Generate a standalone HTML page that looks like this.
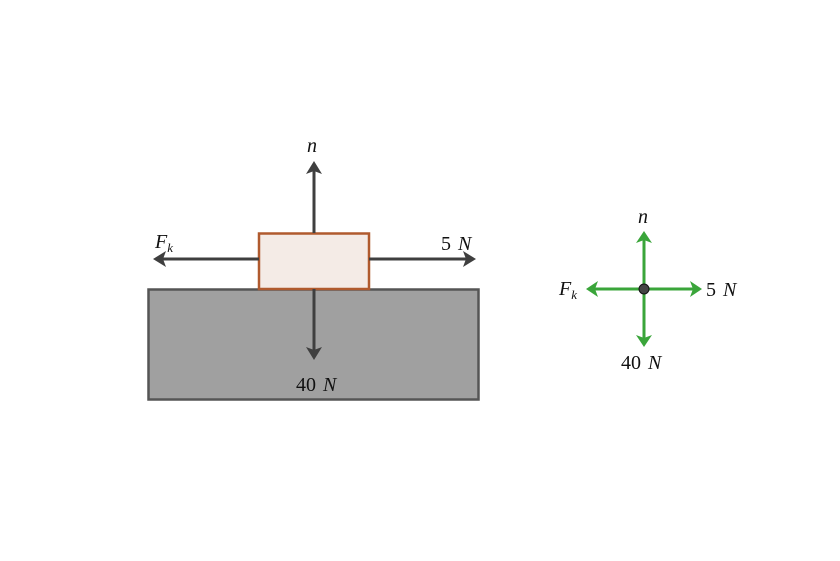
<!DOCTYPE html>
<html><head><meta charset="utf-8"><style>
html,body{margin:0;padding:0;background:#fff;}
svg{display:block;}
text{font-family:"Liberation Serif","DejaVu Serif",serif;font-size:20px;fill:#111;}
.i{font-style:italic;}
</style></head><body>
<svg width="840" height="561" viewBox="0 0 840 561" xmlns="http://www.w3.org/2000/svg">
<rect x="0" y="0" width="840" height="561" fill="#fff"/>
<rect x="148.5" y="289.5" width="330" height="110" fill="#a0a0a0" stroke="#555" stroke-width="2.5"/>
<rect x="259" y="233.5" width="110" height="55.5" fill="#f4ebe6" stroke="#b05a2e" stroke-width="2.5"/>
<g stroke="#3f3f3f" stroke-width="3" fill="none">
<line x1="314" y1="233" x2="314" y2="170"/>
<line x1="314" y1="289" x2="314" y2="352"/>
<line x1="259" y1="259" x2="161" y2="259"/>
<line x1="369" y1="259" x2="468" y2="259"/>
</g>
<g fill="#3f3f3f">
<polygon points="314,161 322,174 314,171 306,174"/>
<polygon points="314,360 322,347 314,350 306,347"/>
<polygon points="153,259 166,251 163,259 166,267"/>
<polygon points="476,259 463,251 466,259 463,267"/>
</g>
<text x="307" y="152" class="i">n</text>
<text x="155" y="248" class="i">F<tspan font-size="13" dy="4">k</tspan></text>
<text x="441" y="250">5<tspan class="i" dx="7">N</tspan></text>
<text x="296" y="391">40<tspan class="i" dx="7">N</tspan></text>
<g stroke="#3aa53a" stroke-width="3" fill="none">
<line x1="644" y1="289" x2="644" y2="239"/>
<line x1="644" y1="289" x2="644" y2="339"/>
<line x1="644" y1="289" x2="594" y2="289"/>
<line x1="644" y1="289" x2="694" y2="289"/>
</g>
<g fill="#3aa53a">
<polygon points="644,231 652,243 644,240 636,243"/>
<polygon points="644,347 652,335 644,338 636,335"/>
<polygon points="586,289 598,281 595,289 598,297"/>
<polygon points="702,289 690,281 693,289 690,297"/>
</g>
<circle cx="644" cy="289" r="5" fill="#444" stroke="#111" stroke-width="1"/>
<text x="638" y="223" class="i">n</text>
<text x="559" y="295" class="i">F<tspan font-size="13" dy="4">k</tspan></text>
<text x="706" y="296">5<tspan class="i" dx="7">N</tspan></text>
<text x="621" y="369">40<tspan class="i" dx="7">N</tspan></text>
</svg>
</body></html>
